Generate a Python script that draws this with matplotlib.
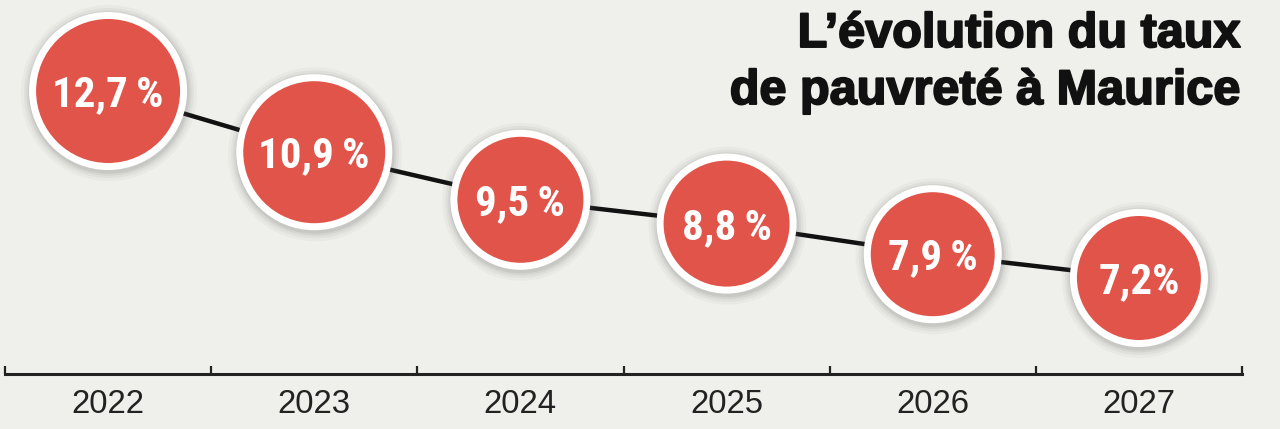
import matplotlib
matplotlib.use("Agg")
import matplotlib.pyplot as plt
import matplotlib.patheffects as pe
from matplotlib import font_manager

# ---- data ----
years = ["2022", "2023", "2024", "2025", "2026", "2027"]
rates = [12.7, 10.9, 9.5, 8.8, 7.9, 7.2]
rate_labels = ["12,7\u2009%", "10,9\u2009%", "9,5\u2009%", "8,8\u2009%", "7,9\u2009%", "7,2%"]
title_lines = ["L\u2019évolution du taux", "de pauvreté à Maurice"]

# ---- style ----
BG = "#efefeb"
RED = "#e1544a"
outer_radius_px = [79, 78, 70, 70, 69, 69]
ring_px = 7

names = {f.name for f in font_manager.fontManager.ttflist}
if "Liberation Sans Narrow" in names:
    circ_family, circ_size = "Liberation Sans Narrow", 32
elif "Roboto Condensed" in names:
    circ_family, circ_size = "Roboto Condensed", 31
else:
    circ_family, circ_size = "Liberation Sans", 27

W, H, DPI = 1280, 429, 100
fig = plt.figure(figsize=(W / DPI, H / DPI), dpi=DPI, facecolor=BG)

# axes: x from pixel 5 to 1242, bottom spine at pixel row 374
ax = fig.add_axes([5 / W, (H - 374) / H, 1237 / W, 374 / H])
ax.set_facecolor(BG)
ax.set_xlim(-0.5, 5.5)
ax.set_ylim(12.7 - (374 - 91) / 34.0, 12.7 + 91 / 34.0)

for s in ["top", "right", "left"]:
    ax.spines[s].set_visible(False)
ax.spines["bottom"].set_linewidth(2.2)
ax.spines["bottom"].set_color("#222222")
ax.set_yticks([])

x = list(range(len(years)))
ax.set_xticks(x)
ax.set_xticklabels(years, fontsize=23.7, family="Liberation Sans", color="#222222")
ax.tick_params(axis="x", which="major", length=0, pad=11)
ax.set_xticks([i - 0.5 for i in range(len(years) + 1)], minor=True)
ax.tick_params(axis="x", which="minor", direction="in", length=6, width=1.6, color="#222222")

# connecting line
ax.plot(x, rates, color="#111111", lw=3.2, zorder=1, solid_capstyle="round")

px2pt = 72.0 / DPI
# soft shadows
for grow, alpha in [(9, 0.04), (6, 0.06), (3.5, 0.08), (1.5, 0.10)]:
    sizes = [(2 * (r + grow) * px2pt) ** 2 for r in outer_radius_px]
    ax.scatter([xi + 0.004 for xi in x], [v - 0.06 for v in rates], s=sizes,
               color="#555555", alpha=alpha, linewidths=0, zorder=2, clip_on=False)

# circles with white ring
sizes = [(2 * (r - ring_px / 2) * px2pt) ** 2 for r in outer_radius_px]
ax.scatter(x, rates, s=sizes, facecolor=RED, edgecolor="white",
           linewidths=ring_px * px2pt, zorder=3, clip_on=False)

cap_px = 0.716 * circ_size / px2pt
for xi, v, lab in zip(x, rates, rate_labels):
    ax.annotate(lab, (xi, v), xytext=(0, -cap_px / 2 * px2pt), textcoords="offset points",
                ha="center", va="baseline", color="white", fontsize=circ_size,
                family=[circ_family, "DejaVu Sans"], fontweight="bold", zorder=4)

# title
title_eff = [pe.withStroke(linewidth=1.4, foreground="#111111")]
fig.text(1240 / W, 1 - 47 / H, title_lines[0], ha="right", va="baseline",
         fontsize=35, family="Liberation Sans", fontweight="bold", color="#111111",
         path_effects=title_eff)
fig.text(1240 / W, 1 - 104 / H, title_lines[1], ha="right", va="baseline",
         fontsize=35, family="Liberation Sans", fontweight="bold", color="#111111",
         path_effects=title_eff)

fig.savefig("out.png", dpi=DPI, facecolor=BG)
